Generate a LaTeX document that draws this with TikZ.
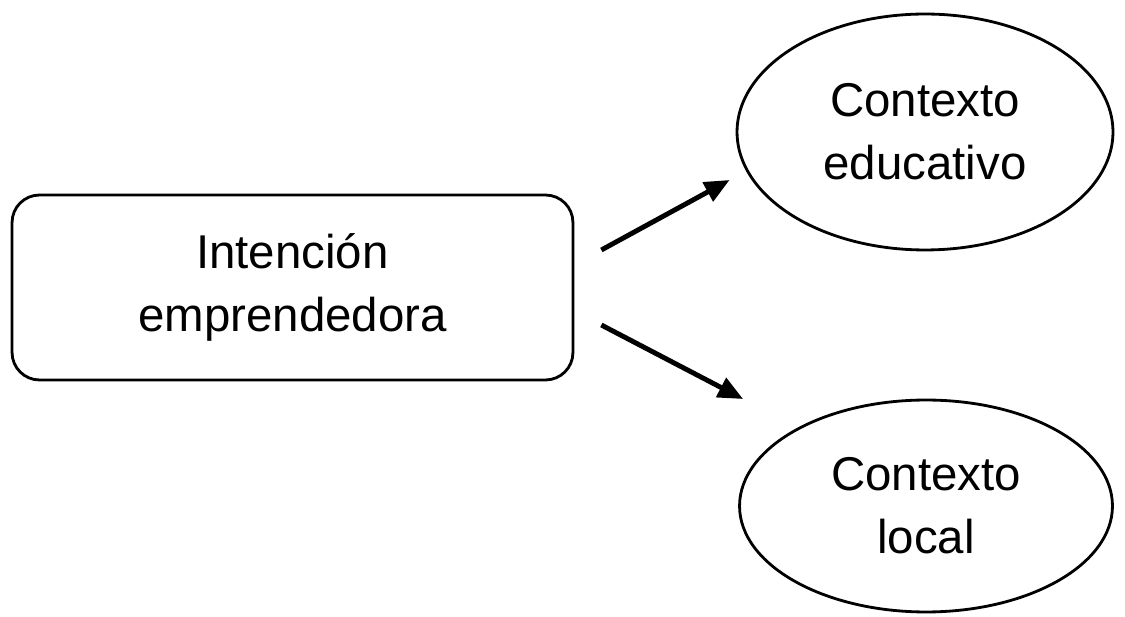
\documentclass[tikz,border=0pt]{standalone}
\usepackage{fontspec}
\setmainfont{Liberation Sans}
\usetikzlibrary{shapes.geometric}
\usetikzlibrary{arrows.meta}
\tikzset{
>={Triangle[length=0.5cm,width=0.42cm]}, % filled triangle tips
my font/.style={font=\fontsize{27}{36}\selectfont},
my box/.style={draw,rectangle,rounded corners=0.55cm,line width=1.6pt,minimum width=11.22cm,minimum height=3.7cm,align=center,my font},
my ellipse/.style={draw,ellipse,line width=1.6pt,inner sep=0pt,align=center,my font},
my arrow/.style={->,line width=2.8pt},
}
\begin{document}
\begin{tikzpicture}[x=0.02cm,y=-0.02cm]
\useasboundingbox (0,0) rectangle (1125,617);
\node[my box] (int) at (292.5,287.5) {Intención\\emprendedora};
\node[my ellipse,minimum width=7.52cm,minimum height=4.72cm] (edu) at (925,132) {Contexto\\educativo};
\node[my ellipse,minimum width=7.46cm,minimum height=4.24cm] (loc) at (926,506) {Contexto\\local};
\coordinate (a1s) at ([xshift=0.54cm,yshift=0.75cm]int.east);
\coordinate (a1e) at ([xshift=-0.12cm,yshift=-0.96cm]edu.west);
\coordinate (a2s) at ([xshift=0.54cm,yshift=-0.75cm]int.east);
\coordinate (a2e) at ([xshift=0.1cm,yshift=2.14cm]loc.west);
\draw[my arrow] (a1s) -- (a1e);
\draw[my arrow] (a2s) -- (a2e);
\end{tikzpicture}
\end{document}
